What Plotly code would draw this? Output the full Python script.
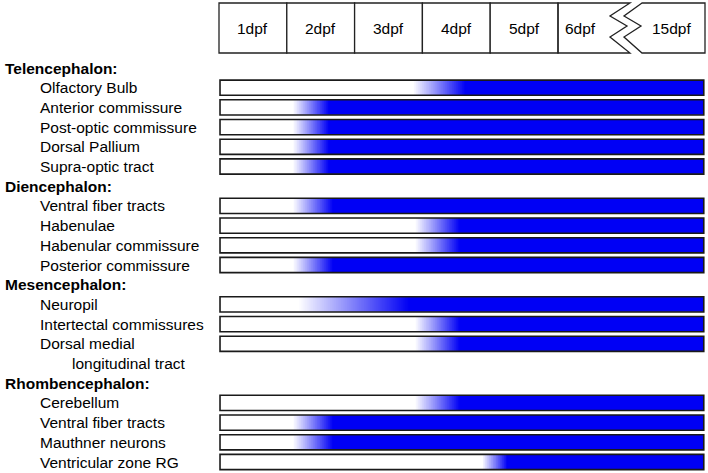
import numpy as np
import plotly.graph_objects as go

# ---------------- data ----------------
group_names = ["Telencephalon:", "Diencephalon:", "Mesencephalon:", "Rhombencephalon:"]
structures = ["Olfactory Bulb", "Anterior commissure", "Post-optic commissure", "Dorsal Pallium",
              "Supra-optic tract",
              "Ventral fiber tracts", "Habenulae", "Habenular commissure", "Posterior commissure",
              "Neuropil", "Intertectal commissures", "Dorsal medial|longitudinal tract",
              "Cerebellum", "Ventral fiber tracts", "Mauthner neurons", "Ventricular zone RG"]
structure_group = [0, 0, 0, 0, 0, 1, 1, 1, 1, 2, 2, 2, 3, 3, 3, 3]
# onset of labelling (dpf axis): where the gradient begins and where it is fully blue
onset_start = [3.86, 2.09, 2.09, 2.09, 2.09, 2.09, 3.89, 3.89, 2.09, 2.17, 3.89, 3.89, 3.89, 2.09, 2.09, 4.88]
onset_full = [4.63, 2.62, 2.62, 2.62, 2.62, 2.68, 4.55, 4.55, 2.68, 3.80, 4.55, 4.55, 4.55, 2.68, 2.68, 5.25]
tick_labels = ["1dpf", "2dpf", "3dpf", "4dpf", "5dpf", "6dpf", "15dpf"]
tick_starts = [1, 2, 3, 4, 5, 6, 7.17]
bar_start = 1.015
bar_end = 8.15

# ---------------- geometry helpers ----------------
W, H = 708, 473
PX_X0, PX_PER_DAY = 219.0, 67.8   # pixel of day 1 boundary, pixels per day
PX_Y0, PX_PER_SLOT = 68.0, 19.7


def px2u(px):
    return 1 + (px - PX_X0) / PX_PER_DAY


def py2s(py):
    return (py - PX_Y0) / PX_PER_SLOT


x_range = [px2u(0), px2u(W)]
y_range = [py2s(H), py2s(0)]

# assign row slots
slots_group = []
slots_struct = []
slot = 0
prev_group = -1
for i, name in enumerate(structures):
    g = structure_group[i]
    if g != prev_group:
        slots_group.append(slot)
        slot += 1
        prev_group = g
    slots_struct.append(slot)
    slot += 1 + name.count("|")

fig = go.Figure()
BLUE = "rgb(0,0,245)"
half = 0.385
xe = np.linspace(bar_start, bar_end, 716)
xc = (xe[:-1] + xe[1:]) / 2
shapes = []
annotations = []
FONT = "Liberation Sans, Arial, sans-serif"
FS = 15.5

for i, name in enumerate(structures):
    s = slots_struct[i]
    z = np.clip((xc - onset_start[i]) / (onset_full[i] - onset_start[i]), 0, 1)
    fig.add_trace(go.Heatmap(
        x=xe, y=[s - half, s + half], z=[z],
        colorscale=[[0, "white"], [1, BLUE]], zmin=0, zmax=1,
        showscale=False, hoverinfo="skip"))
    shapes.append(dict(type="rect", xref="x", yref="y", x0=bar_start, x1=bar_end,
                       y0=s - half, y1=s + half, line=dict(color="#1a1a1a", width=1.6)))
    parts = name.split("|")
    annotations.append(dict(text=parts[0], xref="paper", yref="y", x=38 / W, y=s,
                            xanchor="left", yanchor="middle", showarrow=False,
                            font=dict(family=FONT, size=FS, color="black")))
    for k, p in enumerate(parts[1:]):
        annotations.append(dict(text=p, xref="paper", yref="y", x=70 / W, y=s + 1 + k,
                                xanchor="left", yanchor="middle", showarrow=False,
                                font=dict(family=FONT, size=FS, color="black")))

for g, s in zip(group_names, slots_group):
    annotations.append(dict(text="<b>" + g + "</b>", xref="paper", yref="y", x=3 / W, y=s,
                            xanchor="left", yanchor="middle", showarrow=False,
                            font=dict(family=FONT, size=FS, color="black")))

# ---------------- header timeline boxes ----------------
top, bot = py2s(3), py2s(53)
line = dict(color="#222", width=1.3)
for k in range(5):
    shapes.append(dict(type="rect", xref="x", yref="y", x0=tick_starts[k], x1=tick_starts[k + 1],
                       y0=top, y1=bot, line=line, fillcolor="white", layer="below"))
left_zig = [(630, 3), (610, 16), (627, 26), (610, 37), (630, 53)]
right_zig = [(642, 3), (624, 16), (641, 26), (624, 37), (642, 53)]


def pth(points):
    return " L ".join(f"{px2u(a):.4f},{py2s(b):.4f}" for a, b in points)


p6 = f"M {tick_starts[5]},{top} L " + pth(left_zig) + f" L {tick_starts[5]},{bot} Z"
shapes.append(dict(type="path", xref="x", yref="y", path=p6, line=line))
p15 = "M " + pth(right_zig) + f" L {px2u(705):.4f},{bot} L {px2u(705):.4f},{top} Z"
shapes.append(dict(type="path", xref="x", yref="y", path=p15, line=line))

label_pos = [1.5, 2.5, 3.5, 4.5, 5.5, 6.33, 7.68]
for t, xp in zip(tick_labels, label_pos):
    annotations.append(dict(text=t, xref="x", yref="y", x=xp, y=py2s(28),
                            xanchor="center", yanchor="middle", showarrow=False,
                            font=dict(family=FONT, size=FS, color="black")))

fig.update_layout(
    width=W, height=H, margin=dict(l=0, r=0, t=0, b=0),
    paper_bgcolor="white", plot_bgcolor="white",
    xaxis=dict(range=x_range, visible=False, showgrid=False, zeroline=False, fixedrange=True),
    yaxis=dict(range=y_range, visible=False, showgrid=False, zeroline=False, fixedrange=True),
    shapes=shapes, annotations=annotations, showlegend=False)

fig.write_html("out.html", config={"displayModeBar": False},
               post_script="document.body.style.margin='0';document.body.style.overflow='hidden';")
